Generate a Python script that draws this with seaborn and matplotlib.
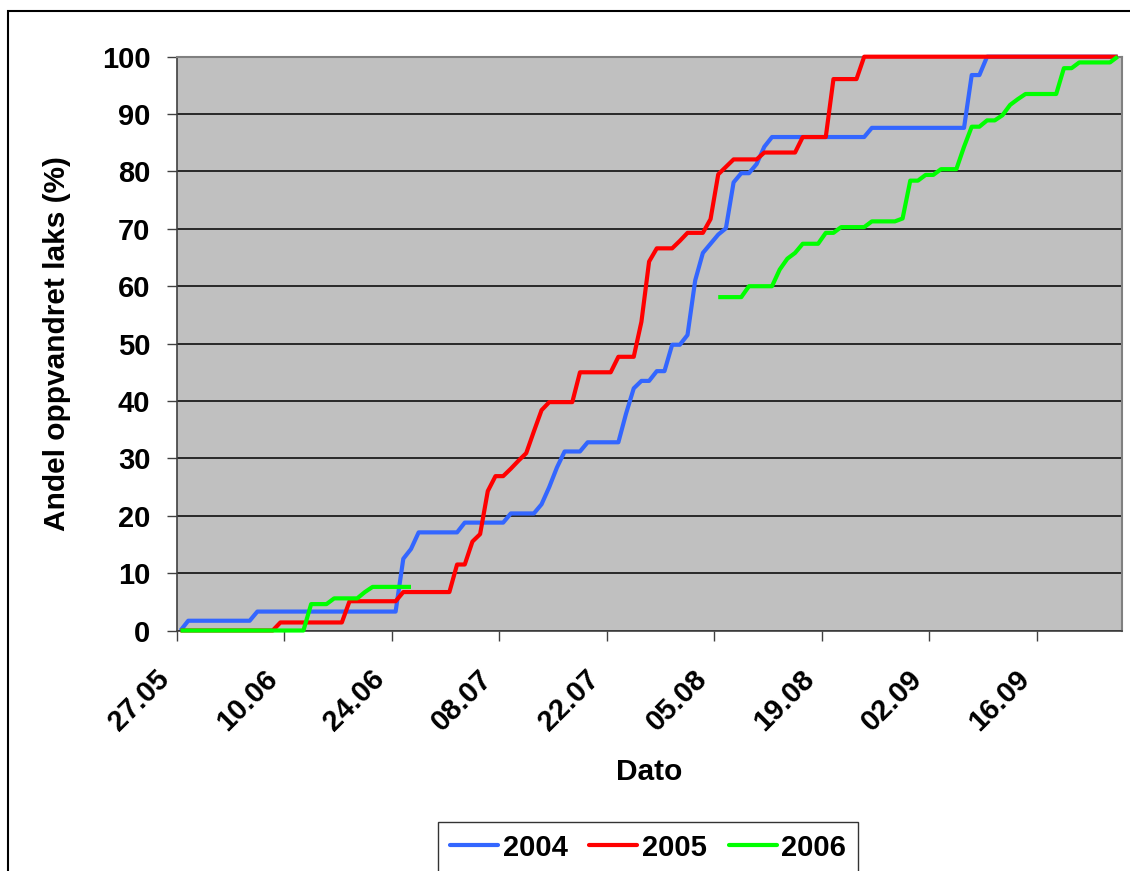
import numpy as np
import pandas as pd
import matplotlib
matplotlib.use("Agg")
import matplotlib.pyplot as plt
import matplotlib.transforms as mtransforms
from matplotlib.lines import Line2D
from matplotlib.patches import Rectangle
import seaborn as sns

# ---------------- data (daily, day 0 = 27.05) ----------------
years = ["2004", "2005", "2006"]
colors = ["#3366FF", "#FF0000", "#00FF00"]

share_2004 = [
    0.0, 1.7, 1.7, 1.7, 1.7, 1.7, 1.7, 1.7, 1.7, 1.7,
    3.3, 3.3, 3.3, 3.3, 3.3, 3.3, 3.3, 3.3, 3.3, 3.3,
    3.3, 3.3, 3.3, 3.3, 3.3, 3.3, 3.3, 3.3, 3.3, 12.5,
    14.2, 17.1, 17.1, 17.1, 17.1, 17.1, 17.1, 18.8, 18.8, 18.8,
    18.8, 18.8, 18.8, 20.4, 20.4, 20.4, 20.4, 22.0, 25.0, 28.4,
    31.2, 31.2, 31.2, 32.8, 32.8, 32.8, 32.8, 32.8, 37.8, 42.2,
    43.5, 43.5, 45.2, 45.2, 49.8, 49.8, 51.5, 61.0, 65.8, 67.4,
    69.0, 70.1, 78.1, 79.7, 79.7, 81.3, 84.3, 86.0, 86.0, 86.0,
    86.0, 86.0, 86.0, 86.0, 86.0, 86.0, 86.0, 86.0, 86.0, 86.0,
    87.6, 87.6, 87.6, 87.6, 87.6, 87.6, 87.6, 87.6, 87.6, 87.6,
    87.6, 87.6, 87.6, 96.8, 96.8, 100, 100, 100, 100, 100,
    100, 100, 100, 100, 100, 100, 100, 100, 100, 100,
    100, 100, 100,
]

share_2005 = [
    0.0, 0.0, 0.0, 0.0, 0.0, 0.0, 0.0, 0.0, 0.0, 0.0,
    0.0, 0.0, 0.0, 1.4, 1.4, 1.4, 1.4, 1.4, 1.4, 1.4,
    1.4, 1.4, 5.1, 5.1, 5.1, 5.1, 5.1, 5.1, 5.1, 6.7,
    6.7, 6.7, 6.7, 6.7, 6.7, 6.7, 11.5, 11.5, 15.5, 16.8,
    24.3, 26.9, 26.9, 28.2, 29.6, 30.9, 34.7, 38.4, 39.8, 39.8,
    39.8, 39.8, 45.0, 45.0, 45.0, 45.0, 45.0, 47.7, 47.7, 47.7,
    53.8, 64.3, 66.6, 66.6, 66.6, 67.9, 69.3, 69.3, 69.3, 71.7,
    79.5, 80.8, 82.1, 82.1, 82.1, 82.1, 83.3, 83.3, 83.3, 83.3,
    83.3, 86.0, 86.0, 86.0, 86.0, 96.1, 96.1, 96.1, 96.1, 100,
    100, 100, 100, 100, 100, 100, 100, 100, 100, 100,
    100, 100, 100, 100, 100, 100, 100, 100, 100, 100,
    100, 100, 100, 100, 100, 100, 100, 100, 100, 100,
    100, 100, 100,
]

nan = np.nan
share_2006 = [
    0.0, 0.0, 0.0, 0.0, 0.0, 0.0, 0.0, 0.0, 0.0, 0.0,
    0.0, 0.0, 0.0, 0.0, 0.0, 0.0, 0.0, 4.6, 4.6, 4.6,
    5.6, 5.6, 5.6, 5.6, 6.7, 7.6, 7.6, 7.6, 7.6, 7.6,
    7.6, nan, nan, nan, nan, nan, nan, nan, nan, nan,
    nan, nan, nan, nan, nan, nan, nan, nan, nan, nan,
    nan, nan, nan, nan, nan, nan, nan, nan, nan, nan,
    nan, nan, nan, nan, nan, nan, nan, nan, nan, nan,
    58.1, 58.1, 58.1, 58.1, 60.0, 60.0, 60.0, 60.0, 62.9, 64.8,
    65.8, 67.4, 67.4, 67.4, 69.3, 69.3, 70.3, 70.3, 70.3, 70.3,
    71.3, 71.3, 71.3, 71.3, 71.8, 78.4, 78.4, 79.4, 79.4, 80.4,
    80.4, 80.4, 84.3, 87.8, 87.8, 88.9, 88.9, 89.8, 91.6, 92.6,
    93.5, 93.5, 93.5, 93.5, 93.5, 98.0, 98.0, 99.0, 99.0, 99.0,
    99.0, 99.0, 100,
]

tick_days = [0, 14, 28, 42, 56, 70, 84, 98, 112]
tick_labels = ["27.05", "10.06", "24.06", "08.07", "22.07",
               "05.08", "19.08", "02.09", "16.09"]
y_ticks = [0, 10, 20, 30, 40, 50, 60, 70, 80, 90, 100]

series = [share_2004, share_2005, share_2006]

# ---------------- styling ----------------
sns.set_style("white")
plt.rcParams["font.family"] = ["Liberation Sans", "DejaVu Sans"]
plt.rcParams["font.weight"] = "bold"
plt.rcParams["text.color"] = "black"
plt.rcParams["axes.labelcolor"] = "black"
plt.rcParams["xtick.color"] = "black"
plt.rcParams["ytick.color"] = "black"

FS_TICK = 21
FS_LABEL = 21.5

W, H = 1130, 871
fig = plt.figure(figsize=(W / 100, H / 100), dpi=100)
fig.patch.set_facecolor("white")

left_px, right_px, top_px, bot_px = 176.7, 1121.5, 56.7, 630.5
ax = fig.add_axes([left_px / W, 1 - bot_px / H,
                   (right_px - left_px) / W, (bot_px - top_px) / H])
ax.set_facecolor("#C0C0C0")

n_days = len(share_2004)
for yr, col, vals in zip(years, colors, series):
    v = np.asarray(vals, dtype=float)
    df = pd.DataFrame({"pos": np.arange(n_days) + 0.5, "share": v})
    df["segment"] = np.isnan(v).cumsum()
    df = df.dropna()
    sns.lineplot(data=df, x="pos", y="share", units="segment", estimator=None,
                 sort=False, color=col, linewidth=3.0, ax=ax, legend=False,
                 clip_on=False, solid_joinstyle="round", solid_capstyle="butt",
                 zorder=3)

ax.set_xlim(0, n_days)
ax.set_ylim(0, 100)
ax.set_yticks(y_ticks)
ax.set_yticklabels([str(t) for t in y_ticks], fontsize=FS_TICK,
                   fontweight="bold", color="black")
ax.set_xticks(tick_days)
ax.set_xticklabels(tick_labels, fontsize=FS_TICK, fontweight="bold",
                   color="black", rotation=45, ha="right", va="center",
                   rotation_mode="anchor")

ax.yaxis.grid(True, color="black", linewidth=1.1)
ax.xaxis.grid(False)
ax.set_axisbelow(True)

ax.tick_params(axis="y", direction="out", length=7, width=1.0,
               color="#404040", pad=12, left=True)
ax.tick_params(axis="x", direction="out", length=7, width=1.0,
               color="#404040", pad=25, bottom=True)

# shift rotated date labels left so their ends sit left of the tick (as in Excel)
shift = mtransforms.ScaledTranslation(-11.5 / 100, 0, fig.dpi_scale_trans)
for lab in ax.get_xticklabels():
    lab.set_transform(lab.get_transform() + shift)

for side in ["left", "bottom"]:
    ax.spines[side].set_color("#404040")
    ax.spines[side].set_linewidth(1.2)
for side in ["top", "right"]:
    ax.spines[side].set_color("#808080")
    ax.spines[side].set_linewidth(1.5)

ax.set_xlabel("Dato", fontsize=FS_LABEL, fontweight="bold", color="black")
ax.set_ylabel("Andel oppvandret laks (%)", fontsize=FS_LABEL,
              fontweight="bold", color="black")
ax.xaxis.set_label_coords(0.5, -0.222)
ax.yaxis.set_label_coords(-0.112, 0.5)

# legend
handles = [Line2D([0], [0], color=c, lw=3.0) for c in colors]
leg = fig.legend(handles, years, loc="upper center",
                 bbox_to_anchor=(648 / W, 1 - 822 / H), ncol=3,
                 frameon=True, fancybox=False, edgecolor="black",
                 prop={"size": FS_TICK, "weight": "bold"},
                 handlelength=1.65, handletextpad=0.15, columnspacing=0.75,
                 borderpad=0.4, borderaxespad=0)
leg.get_frame().set_linewidth(1.0)
for t in leg.get_texts():
    t.set_color("black")

# outer chart border (cropped on right and bottom)
fig.patches.append(Rectangle((8 / W, -0.2), 1.2, 1 - 11 / H + 0.2,
                             transform=fig.transFigure, fill=False,
                             edgecolor="black", linewidth=1.5))

fig.savefig("out.png", dpi=100, facecolor="white")
